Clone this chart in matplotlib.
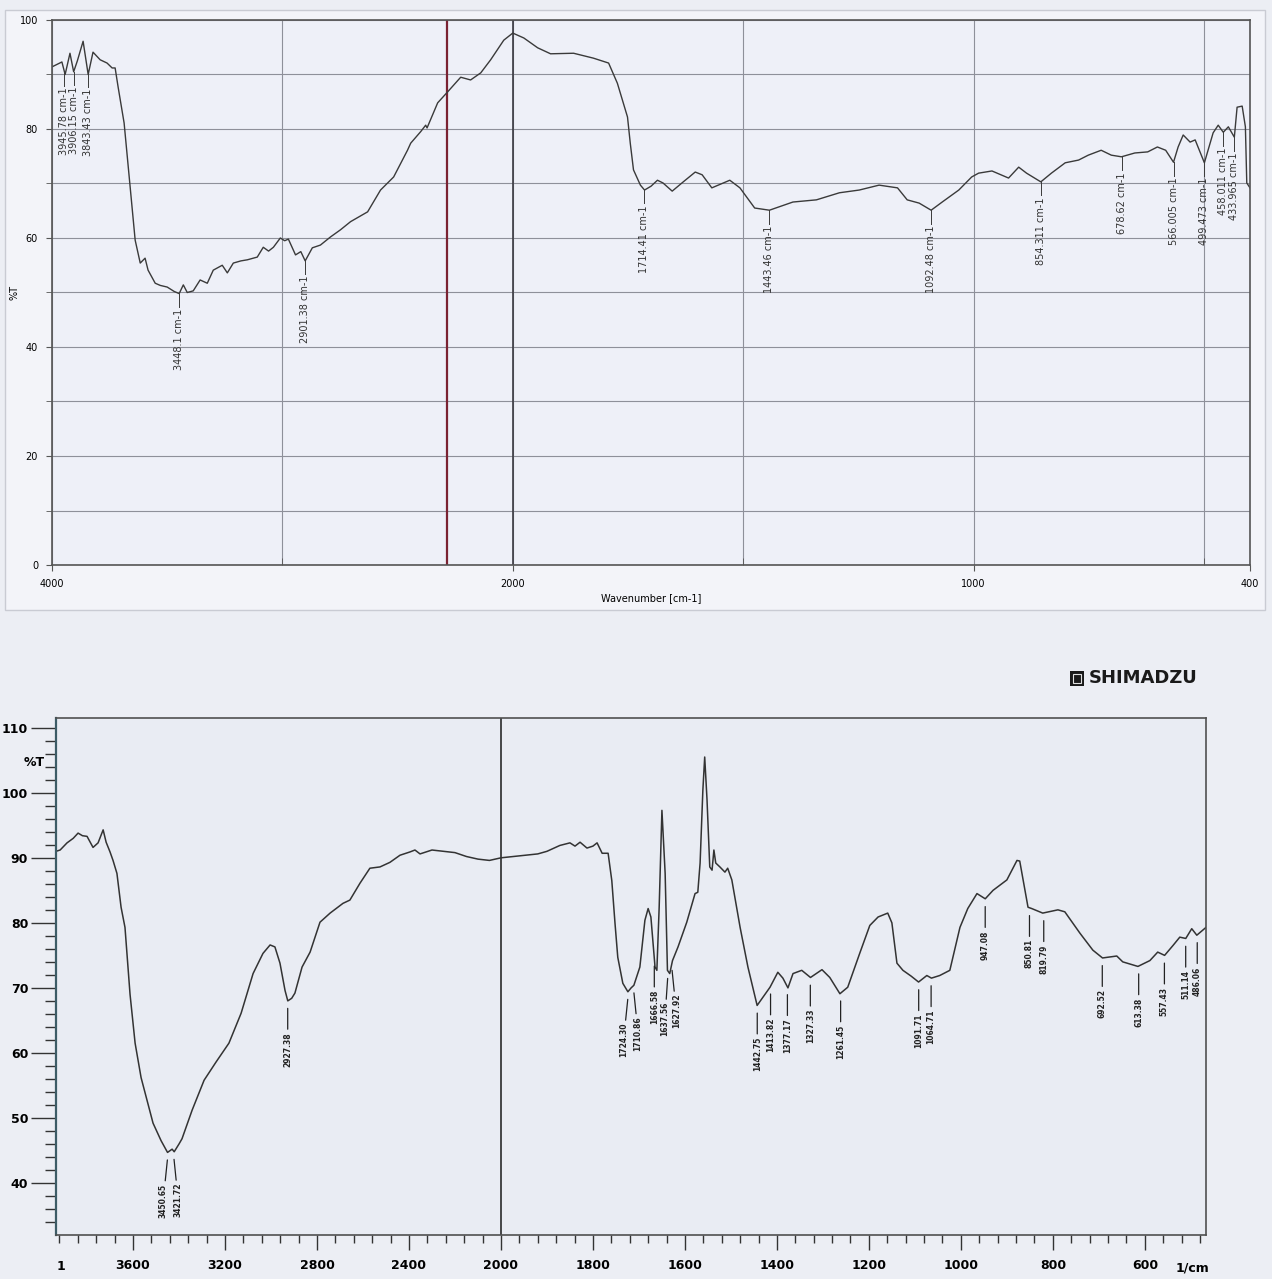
import numpy as np
import matplotlib
matplotlib.use('Agg')
import matplotlib.pyplot as plt
from matplotlib.patches import Rectangle

# ---- top spectrum (wavenumber, %T) ----
top_wn = [4000, 3957, 3943, 3922, 3906, 3890, 3865, 3843, 3822, 3791,
          3761, 3739, 3726, 3713, 3687, 3661, 3639, 3617, 3596, 3583,
          3552, 3530, 3500, 3470, 3448, 3430, 3413, 3387, 3357, 3326,
          3300, 3261, 3239, 3213, 3180, 3152, 3109, 3083, 3060, 3039,
          3009, 2990, 2974, 2943, 2920, 2901, 2870, 2835, 2791, 2748,
          2704, 2630, 2574, 2517, 2457, 2443, 2400, 2378, 2372, 2326,
          2283, 2226, 2183, 2139, 2096, 2039, 2000, 1976, 1946, 1918,
          1868, 1825, 1792, 1773, 1751, 1745, 1738, 1723, 1714, 1700,
          1686, 1674, 1654, 1630, 1604, 1589, 1568, 1529, 1507, 1475,
          1443, 1392, 1341, 1291, 1248, 1205, 1165, 1144, 1118, 1092,
          1068, 1032, 1004, 989, 960, 924, 902, 885, 854, 831,
          801, 772, 751, 723, 701, 679, 650, 622, 601, 583,
          566, 556, 545, 530, 519, 499, 480, 469, 458, 447,
          434, 428, 417, 410, 407, 400]
top_t = [91.4, 92.3, 90.0, 93.9, 90.5, 92.5, 96.1, 90.0, 94.1, 92.7,
         92.1, 91.2, 91.2, 87.7, 81.1, 69.4, 59.6, 55.4, 56.3, 54.1,
         51.7, 51.3, 51.0, 50.2, 49.8, 51.4, 50.0, 50.3, 52.3, 51.7,
         54.1, 55.0, 53.6, 55.4, 55.8, 56.0, 56.5, 58.3, 57.6, 58.3,
         60.0, 59.5, 59.8, 56.9, 57.5, 55.8, 58.2, 58.7, 60.2, 61.5,
         63.0, 64.8, 68.8, 71.2, 76.1, 77.4, 79.5, 80.7, 80.2, 84.8,
         86.8, 89.5, 89.0, 90.3, 92.7, 96.3, 97.6, 96.7, 94.9, 93.8,
         93.9, 93.0, 92.1, 88.4, 82.2, 77.4, 72.5, 69.7, 68.8, 69.5,
         70.6, 70.1, 68.6, 70.3, 72.1, 71.6, 69.2, 70.6, 69.2, 65.5,
         65.1, 66.6, 67.0, 68.3, 68.8, 69.7, 69.2, 67.0, 66.4, 65.1,
         66.6, 68.8, 71.2, 71.9, 72.3, 71.0, 73.0, 71.9, 70.3, 71.9,
         73.8, 74.3, 75.2, 76.1, 75.2, 74.9, 75.6, 75.8, 76.7, 76.1,
         73.9, 76.7, 78.9, 77.6, 78.0, 73.8, 79.3, 80.7, 79.4, 80.4,
         78.5, 84.0, 84.2, 80.4, 70.1, 69.2]
top_peak_wn = [3945.78, 3906.15, 3843.43, 3448.1, 2901.38, 1714.41, 1443.46,
               1092.48, 854.311, 678.62, 566.005, 499.473, 458.011, 433.965]
top_peak_txt = ['3945.78 cm-1', '3906.15 cm-1', '3843.43 cm-1', '3448.1 cm-1',
                '2901.38 cm-1', '1714.41 cm-1', '1443.46 cm-1', '1092.48 cm-1',
                '854.311 cm-1', '678.62 cm-1', '566.005 cm-1', '499.473 cm-1',
                '458.011 cm-1', '433.965 cm-1']

# ---- bottom spectrum (Shimadzu) ----
bot_wn = [3935, 3917, 3887, 3860, 3839, 3820, 3800, 3774, 3752, 3730,
          3717, 3700, 3687, 3670, 3652, 3635, 3613, 3591, 3565, 3539,
          3513, 3478, 3450, 3430, 3421, 3400, 3387, 3343, 3291, 3239,
          3183, 3130, 3078, 3035, 3004, 2983, 2961, 2939, 2927, 2910,
          2896, 2865, 2830, 2787, 2743, 2687, 2657, 2613, 2570, 2526,
          2483, 2439, 2396, 2374, 2352, 2300, 2250, 2200, 2150, 2100,
          2050, 2000, 1960, 1920, 1900, 1872, 1850, 1839, 1828, 1813,
          1800, 1791, 1780, 1767, 1759, 1752, 1746, 1735, 1724, 1717,
          1711, 1698, 1687, 1680, 1674, 1665, 1661, 1656, 1650, 1643,
          1638, 1633, 1627, 1615, 1596, 1578, 1572, 1567, 1561, 1557,
          1552, 1546, 1541, 1537, 1533, 1524, 1513, 1507, 1498, 1480,
          1463, 1443, 1430, 1415, 1398, 1387, 1376, 1365, 1346, 1327,
          1302, 1285, 1263, 1246, 1220, 1198, 1180, 1159, 1150, 1139,
          1126, 1108, 1092, 1074, 1064, 1046, 1024, 1002, 985, 965,
          947, 930, 900, 878, 872, 854, 846, 822, 789, 774,
          741, 713, 692, 661, 648, 615, 589, 572, 557, 539,
          524, 511, 498, 487, 467]
bot_t = [91.0, 91.2, 92.3, 93.0, 93.8, 93.4, 93.3, 91.6, 92.3, 94.3,
         92.4, 90.9, 89.6, 87.6, 82.4, 79.3, 69.0, 61.5, 56.2, 52.7,
         49.2, 46.5, 44.7, 45.2, 44.8, 46.0, 46.8, 51.2, 55.8, 58.6,
         61.5, 66.1, 72.2, 75.3, 76.6, 76.3, 73.8, 69.6, 68.0, 68.4,
         69.2, 73.2, 75.5, 80.1, 81.5, 83.0, 83.5, 86.1, 88.4, 88.6,
         89.3, 90.4, 90.9, 91.2, 90.6, 91.2, 91.0, 90.8, 90.2, 89.8,
         89.6, 90.0, 90.3, 90.6, 91.0, 91.9, 92.3, 91.8, 92.4, 91.5,
         91.8, 92.3, 90.7, 90.7, 86.5, 79.9, 74.7, 70.7, 69.4, 70.0,
         70.4, 73.2, 80.4, 82.2, 80.9, 73.2, 72.7, 82.4, 97.3, 87.6,
         72.7, 72.2, 74.2, 76.3, 80.1, 84.5, 84.7, 89.2, 100.4, 105.5,
         99.0, 88.6, 88.1, 91.2, 89.2, 88.6, 87.8, 88.4, 86.6, 79.3,
         73.2, 67.3, 68.6, 70.1, 72.4, 71.5, 70.0, 72.2, 72.7, 71.6,
         72.8, 71.6, 69.1, 70.1, 75.3, 79.6, 80.9, 81.5, 80.0, 73.8,
         72.7, 71.8, 70.9, 71.9, 71.5, 71.9, 72.7, 79.3, 82.2, 84.5,
         83.7, 85.0, 86.6, 89.6, 89.5, 82.4, 82.2, 81.5, 82.0, 81.7,
         78.4, 75.8, 74.6, 74.9, 74.0, 73.3, 74.2, 75.5, 75.0, 76.5,
         77.8, 77.6, 79.1, 78.1, 79.3]
bot_peak_wn = [3450.65, 3421.72, 2927.38, 1724.30, 1710.86, 1666.58, 1637.56,
               1627.92, 1442.75, 1413.82, 1377.17, 1327.33, 1261.45, 1091.71,
               1064.71, 947.08, 850.81, 819.79, 692.52, 613.38, 557.43,
               511.14, 486.06]
# sideways shift (points) of crowded labels, like the splayed leader lines
bot_peak_dx = [-3, 3, 0, -3, 3, 0, -2, 3, 0, 0, 0, 0, 0, 0,
               0, 0, 0, 0, 0, 0, 0, 0, 0]
bot_ticks = [3600, 3200, 2800, 2400, 2000, 1800, 1600, 1400, 1200, 1000, 800, 600]


# wavenumber axis with 4000-2000 compressed by half
def fwd(w):
    w = np.asarray(w, dtype=float)
    return np.where(w > 2000, 2000 + (w - 2000) * 0.5, w)


def inv(u):
    u = np.asarray(u, dtype=float)
    return np.where(u > 2000, 2000 + (u - 2000) * 2.0, u)


W, H = 1272, 1279


def box(l, t, r, b):
    return [l / W, 1 - b / H, (r - l) / W, (b - t) / H]


plt.rcParams['font.family'] = ['DejaVu Sans']
fig = plt.figure(figsize=(12.72, 12.79), dpi=100, facecolor='#eceef4')
fig.add_artist(Rectangle((5 / W, 1 - 610 / H), 1260 / W, 600 / H, transform=fig.transFigure,
                         facecolor='#f3f4f9', edgecolor='#c9cbd3', lw=1, zorder=0))

# ================= top chart =================
ax1 = fig.add_axes(box(52, 20, 1250, 565))
ax1.set_facecolor('#eef0f8')
ax1.set_xscale('function', functions=(fwd, inv))
ax1.set_xlim(4000, 400)
ax1.set_ylim(0, 100)
ax1.set_xticks([4000, 2000, 1000, 400])
ax1.set_xticklabels(['4000', '2000', '1000', '400'])
ax1.set_xticks([3000, 1500, 500], minor=True)
ax1.set_yticks(range(0, 101, 20))
ax1.set_yticks(range(10, 100, 20), minor=True)
ax1.grid(True, which='both', color='#8e909a', lw=0.8)
ax1.axvline(2000, color='#3a3a42', lw=1.2)
ax1.axvline(2285, color='#7a2232', lw=1.6)
ax1.tick_params(which='both', labelsize=7, length=4, color='#555555', pad=6)
ax1.tick_params(axis='x', which='minor', direction='in', length=5)
for s in ax1.spines.values():
    s.set_color('#555555')
    s.set_linewidth(1.2)

ax1.plot(top_wn, top_t, color='#3a3a3a', lw=1.0)
top_asc_wn, top_asc_t = top_wn[::-1], top_t[::-1]
for w, s in zip(top_peak_wn, top_peak_txt):
    y = np.interp(w, top_asc_wn, top_asc_t)
    ax1.plot([w, w], [y, y - 2.5], color='#3a3a3a', lw=0.7)
    ax1.text(w, y - 2.8, s, rotation=90, ha='center', va='top', fontsize=7, color='#333333')

fig.text(651 / W, 1 - 598 / H, 'Wavenumber [cm-1]', ha='center', va='center', fontsize=7)
fig.text(15 / W, 1 - 292 / H, '%T', ha='center', va='center', rotation=90, fontsize=7)

# ================= bottom chart =================
ax2 = fig.add_axes(box(56, 718, 1206, 1235))
ax2.set_facecolor('#e9ecf3')
ax2.set_xscale('function', functions=(fwd, inv))
ax2.set_xlim(3935, 467)
ax2.set_ylim(32, 111.5)
ax2.set_xticks(bot_ticks)
ax2.set_xticklabels([str(t) for t in bot_ticks], fontweight='bold', fontsize=9)
ax2.set_xticks(list(range(3920, 2000, -80)) + list(range(1960, 466, -40)), minor=True)
ax2.set_yticks(range(40, 111, 10))
ax2.set_yticklabels([str(t) for t in range(40, 111, 10)], fontweight='bold', fontsize=9)
ax2.set_yticks(range(34, 112, 2), minor=True)
ax2.tick_params(axis='x', which='major', length=11, width=1, color='#333333', pad=6)
ax2.tick_params(axis='x', which='minor', length=6, width=1, color='#333333')
ax2.tick_params(axis='y', which='major', length=18, width=1, color='#333333', pad=2)
ax2.tick_params(axis='y', which='minor', length=8, width=1, color='#333333')
for s in ax2.spines.values():
    s.set_color('#505050')
    s.set_linewidth(1.2)
ax2.spines['left'].set_color('#3d5c66')
ax2.spines['left'].set_linewidth(1.6)
ax2.axvline(2000, color='#2a2a2a', lw=1.2)

ax2.plot(bot_wn, bot_t, color='#333333', lw=1.1)
bot_asc_wn, bot_asc_t = bot_wn[::-1], bot_t[::-1]
for w, dx in zip(bot_peak_wn, bot_peak_dx):
    y = np.interp(w, bot_asc_wn, bot_asc_t)
    ax2.annotate(f'{w:.2f}', xy=(w, y - 1.2), xytext=(dx, -17), textcoords='offset points',
                 rotation=90, ha='center', va='top', fontsize=5.5, fontweight='bold',
                 color='#222222',
                 arrowprops=dict(arrowstyle='-', color='#222222', lw=0.9,
                                 shrinkA=0, shrinkB=0))

fig.text(24 / W, 1 - 762 / H, '%T', ha='left', va='center', fontsize=9, fontweight='bold')
fig.text(61 / W, 1 - 1267 / H, '1', ha='center', va='center', fontsize=9, fontweight='bold')
fig.text(1192 / W, 1 - 1268 / H, '1/cm', ha='center', va='center', fontsize=9, fontweight='bold')

# Shimadzu logo
fig.add_artist(Rectangle((1070 / W, 1 - 686 / H), 14 / W, 15 / H, transform=fig.transFigure,
                         facecolor='#1a1a1a', edgecolor='none'))
fig.add_artist(Rectangle((1073 / W, 1 - 683 / H), 8 / W, 9 / H, transform=fig.transFigure,
                         facecolor='none', edgecolor='#e0e0e0', lw=0.8))
fig.text(1089 / W, 1 - 678 / H, 'SHIMADZU', ha='left', va='center', fontsize=13,
         fontweight='heavy', color='#1a1a1a')

fig.savefig('out.png', dpi=100, facecolor=fig.get_facecolor())
